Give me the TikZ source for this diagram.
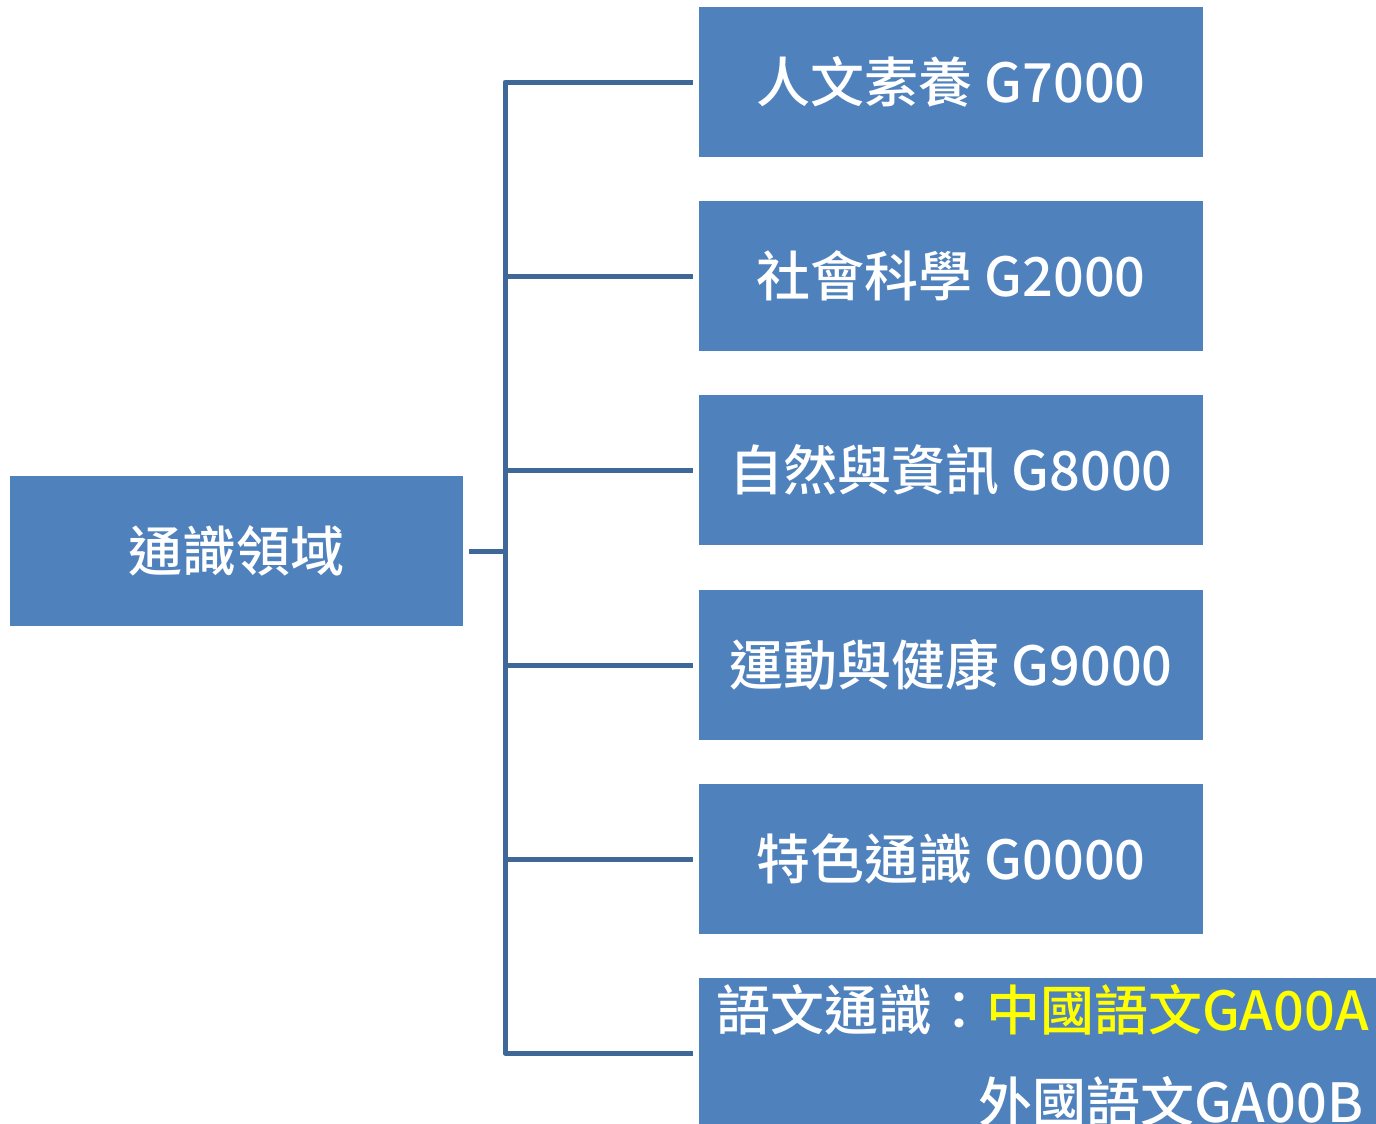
\documentclass[tikz,border=0pt]{standalone}
\usepackage{fontspec}
\setmainfont{Noto Sans CJK TC}[UprightFont=* Medium]
\definecolor{boxblue}{HTML}{4F81BD}
\definecolor{lineblue}{HTML}{3F6797}
\definecolor{codeyellow}{HTML}{FFFF00}

\begin{document}
\begin{tikzpicture}[x=0.5pt,y=-0.5pt,
    box/.style={fill=boxblue,text=white,minimum width=252pt,minimum height=75pt,
      inner sep=0pt,outer sep=3pt,font=\fontsize{27}{32}\selectfont},
    boxtext/.style={text=white,inner sep=0pt,font=\fontsize{27}{32}\selectfont},
    conn/.style={draw=lineblue,line width=2.5pt}]
                \useasboundingbox (0,0) rectangle (1376,1124);
                % The root box on the left
                \node[box,minimum width=226.5pt] (root) at (236.5,551) {通識領域};
                % The coded boxes on the right
                \node[box] (hum) at (951,82) {人文素養 G7000};
                \node[box] (soc) at (951,276) {社會科學 G2000};
                \node[box] (nat) at (951,470) {自然與資訊 G8000};
                \node[box] (spo) at (951,665) {運動與健康 G9000};
                \node[box] (spe) at (951,859) {特色通識 G0000};
                % The language box runs off the page
                \node[box,minimum width=350pt] (lang) at (1049,1053) {};
                \node[boxtext,anchor=west] (langa) at (716,1010) {語文通識：\textcolor{codeyellow}{中國語文GA00A}};
                \node[boxtext,anchor=west] (langb) at (978,1102) {外國語文GA00B};
                % The bracket joining them
                \coordinate (spine) at (505,551);
                \draw[conn] (root.east) -- (spine);
                \draw[conn,line join=round] (hum.west) -- (spine |- hum.west) -- (spine |- lang.west) -- (lang.west);
                \foreach \n in {soc,nat,spo,spe}
                    \draw[conn] (spine |- \n.west) -- (\n.west);
            \end{tikzpicture}
\end{document}
